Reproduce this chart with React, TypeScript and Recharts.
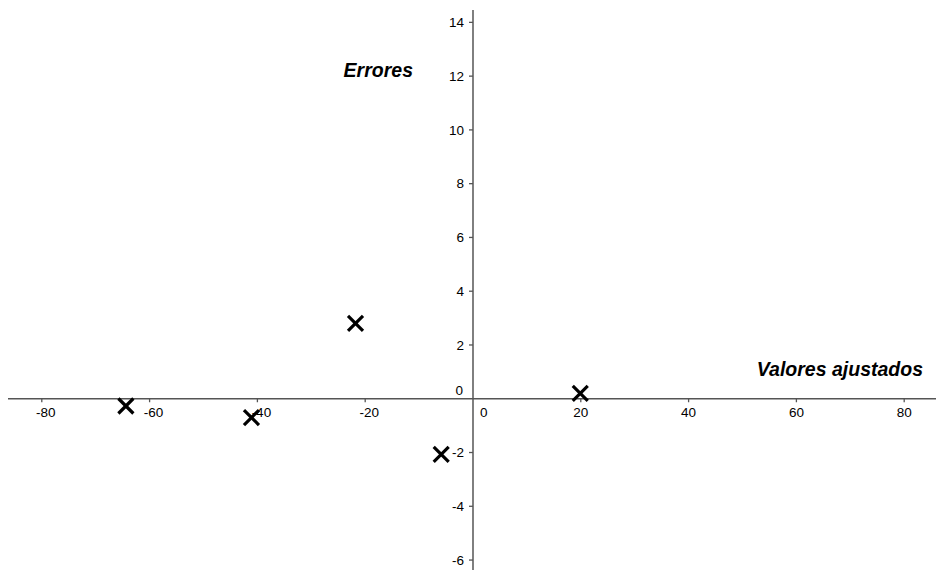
import React from "react";
import { ScatterChart, Scatter, XAxis, YAxis, ReferenceLine, ReferenceDot } from "recharts";

// fitted values vs residuals
const fitted = [-64.4, -41.1, -21.8, -5.9, 19.9];
const errors = [-0.27, -0.7, 2.8, -2.07, 0.2];

const xTicks = [-80, -60, -40, -20, 0, 20, 40, 60, 80];
const yTicks = [-6, -4, -2, 0, 2, 4, 6, 8, 10, 12, 14];

const points = fitted.map((x, i) => ({ x, y: errors[i] }));

const FONT = "'Liberation Sans', Arial, sans-serif";
const AXIS = "#555";
const TICK_SIZE = 13.5;

const fmt = (v: number) => (v < 0 ? "-" + Math.abs(v) : String(v));

const Cross = (props: any) => {
  const { cx, cy } = props;
  const r = 7.5;
  return (
    <g stroke="#000" strokeWidth={3.2} strokeLinecap="butt">
      <line x1={cx - r} y1={cy - r} x2={cx + r} y2={cy + r} />
      <line x1={cx - r} y1={cy + r} x2={cx + r} y2={cy - r} />
    </g>
  );
};

const XTick = (v: number) => (props: any) => {
  const { cx, cy } = props;
  if (v === 0) {
    return (
      <text x={cx + 7} y={cy + 18} fontSize={TICK_SIZE} fontFamily={FONT} fill="#000">
        0
      </text>
    );
  }
  return (
    <g>
      <line x1={cx} y1={cy} x2={cx} y2={cy + 3.5} stroke={AXIS} strokeWidth={1.3} />
      <text
        x={v < 0 ? cx + 4 : cx}
        y={cy + 18}
        textAnchor="middle"
        fontSize={TICK_SIZE}
        fontFamily={FONT}
        fill="#000"
      >
        {fmt(v)}
      </text>
    </g>
  );
};

const YTick = (v: number) => (props: any) => {
  const { cx, cy } = props;
  if (v === 0) {
    return (
      <text x={cx - 10} y={cy - 4} textAnchor="end" fontSize={TICK_SIZE} fontFamily={FONT} fill="#000">
        0
      </text>
    );
  }
  return (
    <g>
      <line x1={cx - 4} y1={cy} x2={cx} y2={cy} stroke={AXIS} strokeWidth={1.3} />
      <text
        x={cx - 9}
        y={cy + 4.8}
        textAnchor="end"
        fontSize={TICK_SIZE}
        fontFamily={FONT}
        fill="#000"
      >
        {fmt(v)}
      </text>
    </g>
  );
};

const titleStyle = {
  fontSize: 19.5,
  fontFamily: FONT,
  fontWeight: 700,
  fontStyle: "italic",
  fill: "#000",
} as const;

const XTitle = (props: any) => {
  const { viewBox } = props;
  return (
    <text x={viewBox.x + viewBox.width - 13} y={viewBox.y - 23} textAnchor="end" {...titleStyle}>
      Valores ajustados
    </text>
  );
};

const YTitle = (props: any) => {
  const { viewBox } = props;
  return (
    <text x={viewBox.x - 60} y={viewBox.y + 67} textAnchor="end" {...titleStyle}>
      Errores
    </text>
  );
};

export default function App() {
  return (
    <div style={{ position: "absolute", left: 0, top: 0, background: "#fff" }}>
      <ScatterChart width={936} height={570} margin={{ top: 10, right: 0, bottom: 0, left: 8 }}>
        <XAxis type="number" dataKey="x" domain={[-86.27, 85.9]} allowDataOverflow hide />
        <YAxis type="number" dataKey="y" domain={[-6.37, 14.46]} allowDataOverflow hide />
        <ReferenceLine y={0} stroke={AXIS} strokeWidth={1.5} label={<XTitle />} />
        <ReferenceLine x={0} stroke={AXIS} strokeWidth={1.5} label={<YTitle />} />
        {xTicks.map((v) => (
          <ReferenceDot key={"x" + v} x={v} y={0} shape={XTick(v)} />
        ))}
        {yTicks.map((v) => (
          <ReferenceDot key={"y" + v} x={0} y={v} shape={YTick(v)} />
        ))}
        <Scatter data={points} shape={<Cross />} isAnimationActive={false} />
      </ScatterChart>
    </div>
  );
}
